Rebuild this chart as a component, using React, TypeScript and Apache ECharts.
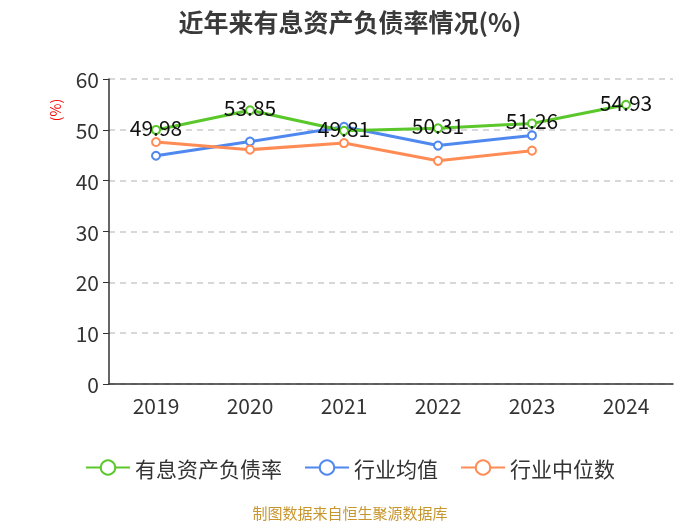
import React, { useEffect, useRef } from "react";
import * as echarts from "echarts";

const years = ["2019", "2020", "2021", "2022", "2023", "2024"];
const debtRatio = [49.98, 53.85, 49.81, 50.31, 51.26, 54.93];
const industryAvg = [44.9, 47.7, 50.6, 46.9, 48.9, null];
const industryMedian = [47.6, 46.1, 47.4, 43.9, 45.9, null];

const FONT = "'Noto Sans CJK SC', 'Noto Sans', sans-serif";

export default function App() {
  const ref = useRef<HTMLDivElement>(null);
  useEffect(() => {
    if (!ref.current) return;
    const chart = echarts.init(ref.current, null, { renderer: "svg" });
    const mk = (name: string, data: any[], color: string, label: boolean) => ({
      name,
      type: "line",
      data,
      symbol: "emptyCircle",
      symbolSize: 8,
      lineStyle: { width: 3, color },
      itemStyle: { color, borderWidth: 2 },
      label: label
        ? {
            show: true,
            position: "inside",
            offset: [0, -3],
            fontSize: 21,
            color: "#111",
            fontFamily: FONT,
          }
        : { show: false },
      z: label ? 3 : 2,
    });
    chart.setOption({
      animation: false,
      textStyle: { fontFamily: FONT },
      title: {
        text: "近年来有息资产负债率情况(%)",
        left: "center",
        top: 3,
        textStyle: { fontSize: 25, fontWeight: "bold", color: "#3a3a3a", fontFamily: FONT },
      },
      grid: { left: 109, right: 27, top: 79, bottom: 141 },
      legend: {
        top: 452,
        left: "center",
        itemWidth: 44,
        itemHeight: 18,
        itemGap: 22,
        textStyle: { fontSize: 21, color: "#333", fontFamily: FONT },
        data: ["有息资产负债率", "行业均值", "行业中位数"],
      },
      xAxis: {
        type: "category",
        data: years,
        axisLine: { lineStyle: { color: "#333", width: 1.5 } },
        axisTick: { length: 6, lineStyle: { color: "#333" } },
        axisLabel: { fontSize: 21, color: "#333", margin: 10, fontFamily: FONT },
      },
      yAxis: {
        type: "value",
        min: 0,
        max: 60,
        interval: 10,
        axisLine: { show: true, lineStyle: { color: "#333", width: 1.5 } },
        axisTick: { show: true, length: 6, lineStyle: { color: "#333" } },
        axisLabel: { fontSize: 21, color: "#333", margin: 10, fontFamily: FONT },
        splitLine: { lineStyle: { type: [6, 5], color: "#ccc", width: 1.5 } },
      },
      series: [
        mk("有息资产负债率", debtRatio, "#5ac72a", true),
        mk("行业均值", industryAvg, "#4f88ef", false),
        mk("行业中位数", industryMedian, "#ff8c55", false),
      ],
      graphic: [
        {
          type: "text",
          x: 55,
          y: 110,
          rotation: Math.PI / 2,
          style: { text: "(%)", fill: "red", fontSize: 14, align: "center", verticalAlign: "middle", fontFamily: FONT },
        },
        {
          type: "text",
          left: "center",
          top: 505,
          style: { text: "制图数据来自恒生聚源数据库", fill: "#c8962e", fontSize: 15, fontFamily: FONT },
        },
      ],
    });
    return () => chart.dispose();
  }, []);
  return <div ref={ref} style={{ position: "fixed", left: 0, top: 0, width: 700, height: 525 }} />;
}
